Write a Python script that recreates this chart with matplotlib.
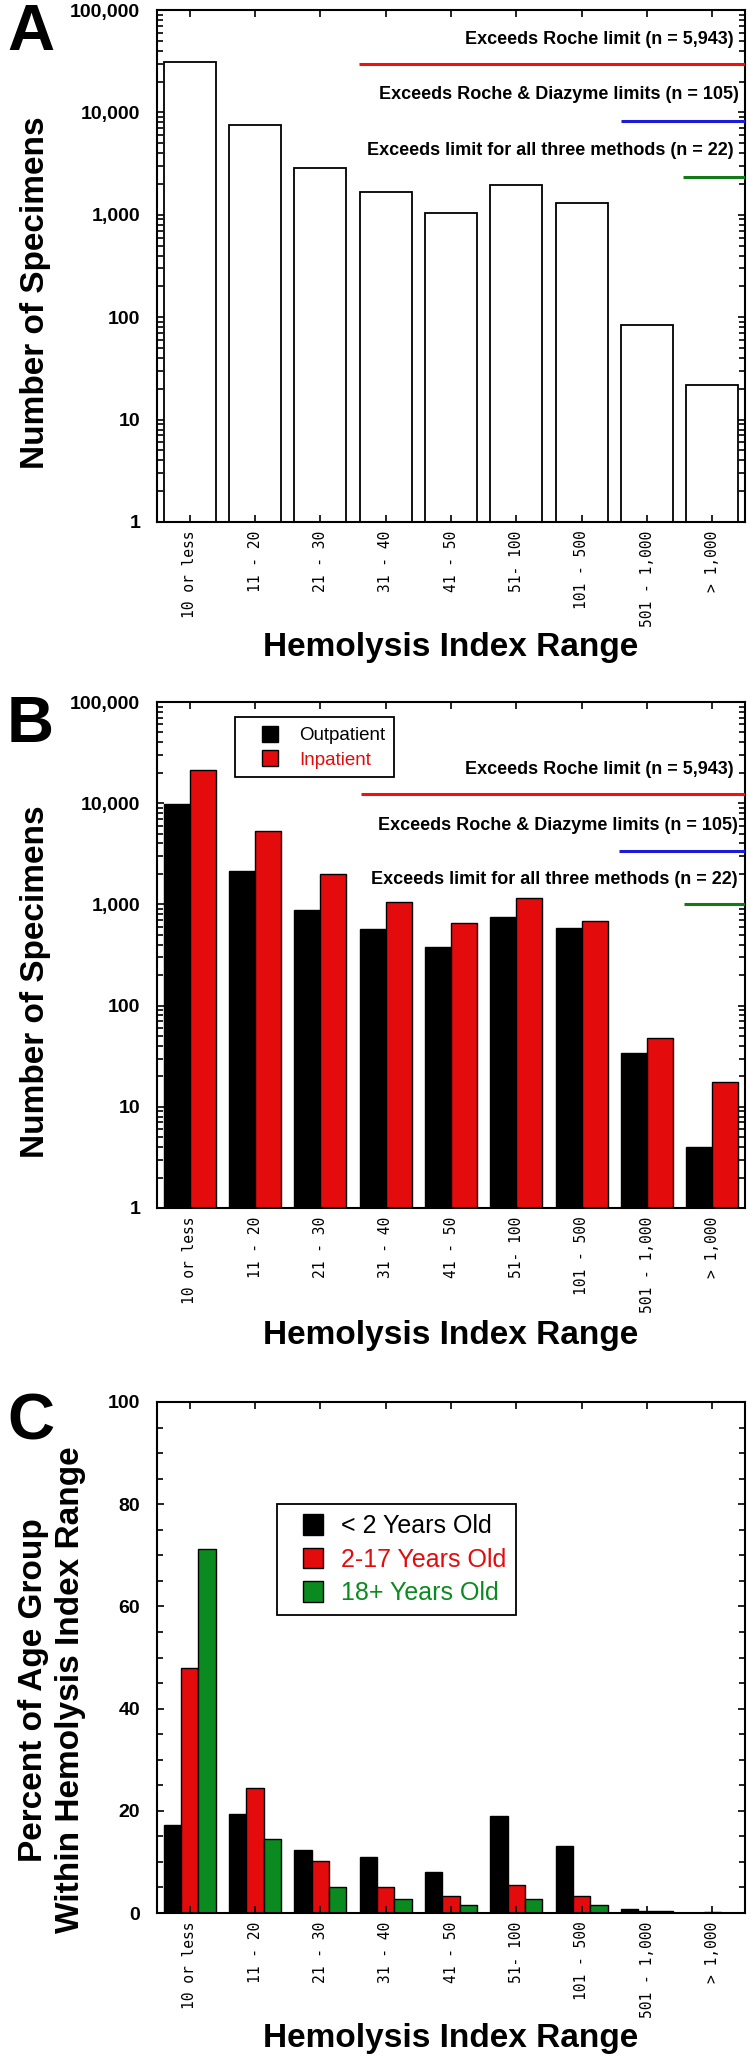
import matplotlib
matplotlib.use("Agg")
import matplotlib.pyplot as plt
from matplotlib.legend_handler import HandlerPatch
from matplotlib.patches import Patch, Rectangle
from matplotlib.ticker import FuncFormatter, LogLocator, MultipleLocator, NullFormatter
import numpy as np

plt.rcParams["font.family"] = ["Liberation Sans", "DejaVu Sans"]
plt.rcParams["font.weight"] = "bold"

# data
ranges = ["10 or less", "11 - 20", "21 - 30", "31 - 40", "41 - 50",
          "51- 100", "101 - 500", "501 - 1,000", "> 1,000"]
all_specimens = [31300, 7480, 2890, 1660, 1035, 1955, 1310, 84, 22]
outpatient = [9820, 2150, 880, 568, 382, 755, 589, 34, 4]
inpatient = [21300, 5310, 1995, 1065, 650, 1148, 686, 48, 17.5]

age_groups = ["< 2 Years Old", "2-17 Years Old", "18+ Years Old"]
pct_under2 = [17.2, 19.3, 12.4, 11.0, 8.0, 18.9, 13.1, 0.7, 0.0]
pct_2to17 = [47.9, 24.4, 10.2, 5.1, 3.3, 5.5, 3.3, 0.3, 0.2]
pct_adult = [71.2, 14.5, 5.1, 2.7, 1.6, 2.7, 1.6, 0.3, 0.0]

limit_labels = ["Exceeds Roche limit (n = 5,943)",
                "Exceeds Roche & Diazyme limits (n = 105)",
                "Exceeds limit for all three methods (n = 22)"]

RED = "#e30b0b"
GREEN = "#0b8a1f"
LINE_COLORS = ["#f01010", "#1a1ad8", "#137a1a"]

x = np.arange(len(ranges))

fig = plt.figure(figsize=(7.5, 20.58), dpi=100)
W, H = 750, 2058


def make_axes(top, bottom, left=157, right=745):
    return fig.add_axes([left / W, (H - bottom) / H, (right - left) / W, (bottom - top) / H])


def style_axes(ax, xlabel_y):
    for s in ax.spines.values():
        s.set_linewidth(1.5)
    ax.set_xlim(-0.5, 8.5)
    ax.set_xticks(x)
    ax.set_xticklabels(ranges, rotation=90, fontfamily="DejaVu Sans Mono",
                       fontsize=10.5, fontweight="normal")
    ax.tick_params(axis="both", which="both", direction="in", top=True, right=True, width=1.2)
    ax.tick_params(which="major", length=5)
    ax.tick_params(which="minor", length=4)
    ax.tick_params(axis="x", pad=6)
    ax.tick_params(axis="y", labelsize=14, pad=12)
    ax.set_xlabel("Hemolysis Index Range", fontsize=24, fontweight="bold")
    ax.xaxis.set_label_coords(0.5, xlabel_y)
    ax.xaxis.label.set_va("center")


def log_axis(ax):
    ax.set_yscale("log")
    ax.set_ylim(1, 1e5)
    ax.set_yticks([1, 10, 100, 1000, 10000, 100000])
    ax.yaxis.set_major_formatter(FuncFormatter(lambda v, p: f"{v:,.0f}"))
    ax.yaxis.set_minor_locator(LogLocator(base=10, subs=np.arange(2, 10)))
    ax.yaxis.set_minor_formatter(NullFormatter())
    ax.set_ylabel("Number of Specimens", fontsize=24, fontweight="bold")
    ax.yaxis.set_label_coords(-0.206, 0.447)
    ax.yaxis.label.set_va("center")


def limit_marks(ax, line_y, line_x0, text_y, text_x):
    for i, lab in enumerate(limit_labels):
        ax.hlines(line_y[i], line_x0[i], 8.5, colors=LINE_COLORS[i], lw=2.2, zorder=3)
        ax.text(text_x[i], text_y[i], lab, transform=ax.get_yaxis_transform(),
                ha="right", va="center", fontsize=13, fontweight="bold")


def square_handler(side):
    # small square pushed to the right end of the handle box
    def make(legend, orig_handle, xdescent, ydescent, width, height, fontsize):
        s = side * fontsize
        return Rectangle((width - s - xdescent, -ydescent + (height - s) / 2), s, s)
    return HandlerPatch(patch_func=make)


# Panel A
axA = make_axes(10, 522)
axA.bar(x, all_specimens, width=0.8, color="white", edgecolor="black", linewidth=1.3)
log_axis(axA)
style_axes(axA, -0.246)
limit_marks(axA, [29700, 8300, 2320], [2.59, 6.60, 7.55],
            [52000, 14800, 4200], [0.981, 0.990, 0.981])

# Panel B
axB = make_axes(702, 1208)
axB.bar(x - 0.2, outpatient, width=0.4, color="black", edgecolor="black", linewidth=1.0)
axB.bar(x + 0.2, inpatient, width=0.4, color=RED, edgecolor="black", linewidth=1.0)
log_axis(axB)
style_axes(axB, -0.251)
limit_marks(axB, [12250, 3370, 1000], [2.62, 6.57, 7.57],
            [21300, 5960, 1780], [0.981, 0.988, 0.988])
hB = [Patch(facecolor="black", edgecolor="black"), Patch(facecolor=RED, edgecolor="black")]
legB = axB.legend(hB, ["Outpatient", "Inpatient"], labelcolor=["black", RED],
                  loc="upper left", bbox_to_anchor=(0.133, 0.970), borderaxespad=0,
                  fancybox=False, edgecolor="black", framealpha=1,
                  prop={"size": 13.5, "weight": "normal"},
                  handler_map={p: square_handler(0.85) for p in hB},
                  handlelength=1.85, handleheight=0.95, handletextpad=1.1,
                  borderpad=0.45, labelspacing=0.32)
legB.get_frame().set_linewidth(1.3)

# Panel C
axC = make_axes(1402, 1913)
bw = 0.8 / 3
axC.bar(x - bw, pct_under2, width=bw, color="black", edgecolor="black", linewidth=1.0)
axC.bar(x, pct_2to17, width=bw, color=RED, edgecolor="black", linewidth=1.0)
axC.bar(x + bw, pct_adult, width=bw, color=GREEN, edgecolor="black", linewidth=1.0)
axC.set_ylim(0, 100)
axC.yaxis.set_major_locator(MultipleLocator(20))
axC.yaxis.set_minor_locator(MultipleLocator(5))
style_axes(axC, -0.245)
axC.set_ylabel("Percent of Age Group\nWithin Hemolysis Index Range", fontsize=24,
               fontweight="bold", linespacing=1.24)
axC.yaxis.set_label_coords(-0.179, 0.437)
axC.yaxis.label.set_va("center")
hC = [Patch(facecolor="black", edgecolor="black"), Patch(facecolor=RED, edgecolor="black"),
      Patch(facecolor=GREEN, edgecolor="black")]
legC = axC.legend(hC, age_groups, labelcolor=["black", RED, GREEN],
                  loc="upper left", bbox_to_anchor=(0.204, 0.800), borderaxespad=0,
                  fancybox=False, edgecolor="black", framealpha=1,
                  prop={"size": 18, "weight": "normal"},
                  handler_map={p: square_handler(0.82) for p in hC},
                  handlelength=1.45, handleheight=0.85, handletextpad=0.7,
                  borderpad=0.4, labelspacing=0.38)
legC.get_frame().set_linewidth(1.3)

# panel letters
for letter, base in [("A", 50), ("B", 742), ("C", 1440)]:
    fig.text(7 / W, (H - base) / H, letter, fontsize=47, fontweight="bold",
             ha="left", va="baseline")

fig.savefig("out.png", dpi=100)
